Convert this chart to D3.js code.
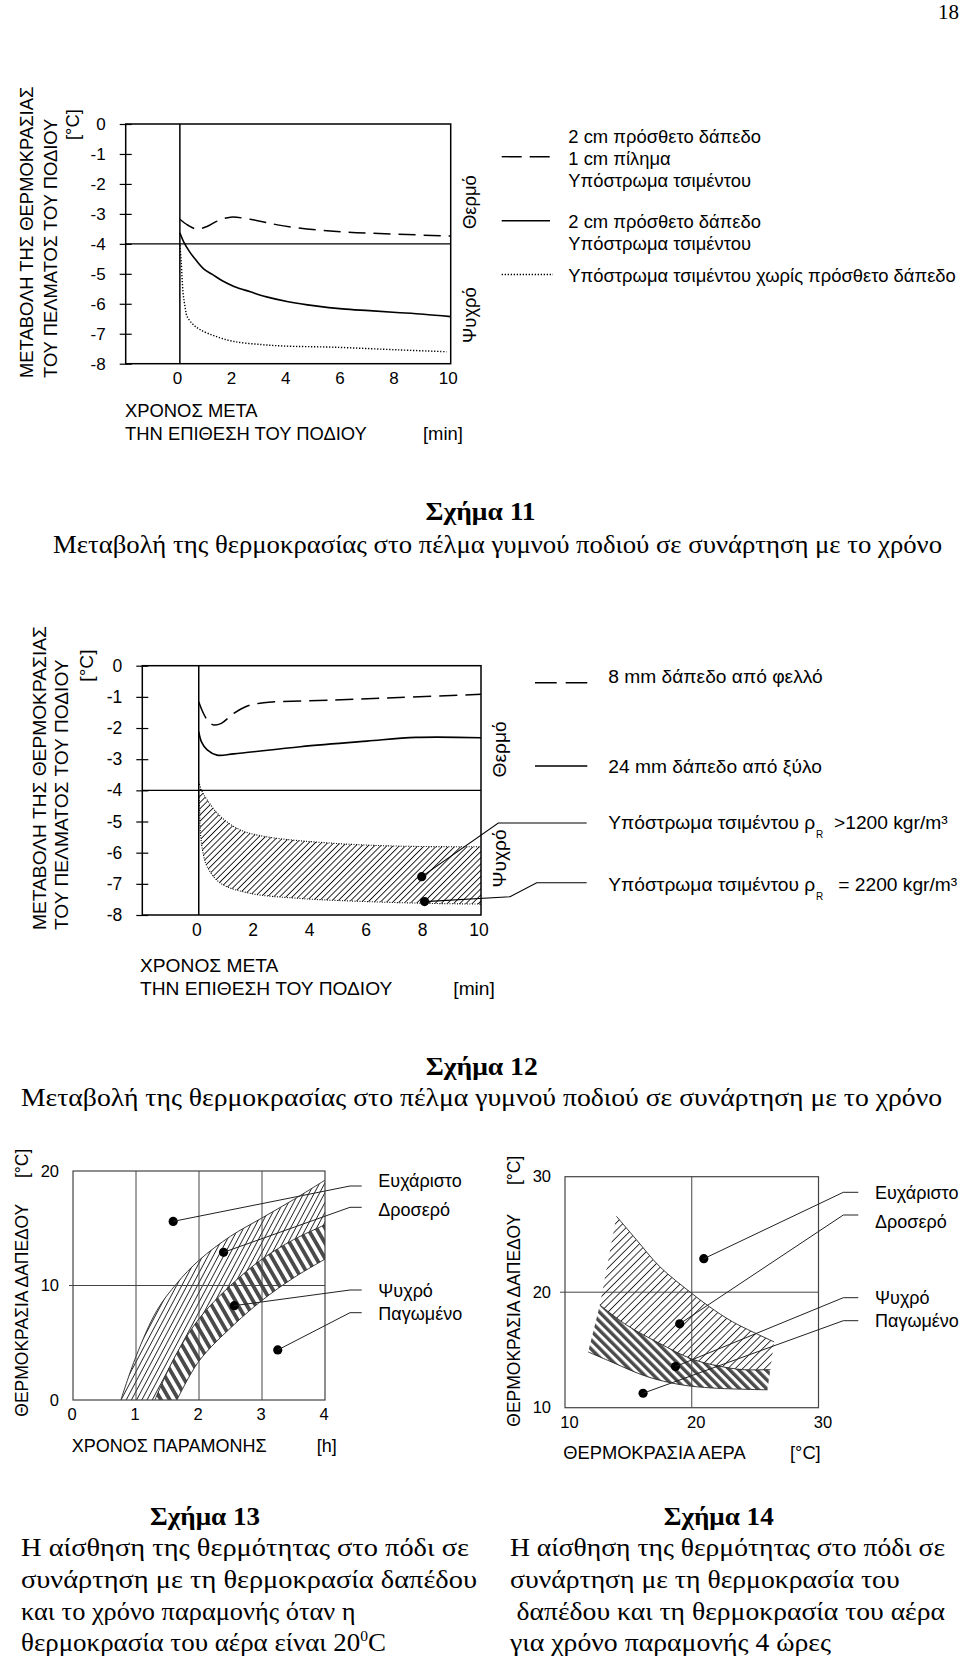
<!DOCTYPE html>
<html>
<head>
<meta charset="utf-8">
<script src="https://cdn.jsdelivr.net/npm/d3@7"></script>
<style>
body { margin: 0; background: #fff; }
svg { display: block; }
text { font-family: "Liberation Sans", Arial, sans-serif; fill: #000; }
.serif { font-family: "Liberation Serif", "Times New Roman", serif; }
</style>
</head>
<body>
<svg id="page" width="960" height="1659"></svg>
<script>
// ---------- data: Σχήμα 11 ----------
const fig11XTicks = [0, 2, 4, 6, 8, 10]
const fig11YTicks = [0, -1, -2, -3, -4, -5, -6, -7, -8]
const fig11Dashed = [[0, -3.18], [0.3, -3.38], [0.64, -3.51], [1.0, -3.42], [1.38, -3.24], [1.87, -3.11], [2.6, -3.18], [3.83, -3.4], [5.8, -3.59], [7.8, -3.67], [10, -3.74]]
const fig11Solid = [[0, -3.63], [0.15, -3.95], [0.35, -4.25], [0.6, -4.55], [0.9, -4.85], [1.2, -5.02], [1.6, -5.25], [2, -5.42], [2.6, -5.6], [3.2, -5.77], [4, -5.93], [5, -6.07], [6, -6.17], [7, -6.23], [8, -6.29], [9, -6.35], [10, -6.43]]
const fig11Dotted = [[0, -4.04], [0.05, -4.6], [0.12, -5.65], [0.2, -6.15], [0.27, -6.43], [0.5, -6.7], [0.76, -6.87], [1.3, -7.08], [2, -7.26], [3, -7.36], [3.83, -7.41], [5.7, -7.45], [8.1, -7.54], [9.85, -7.6]]
const fig11Legend = ["2 cm πρόσθετο δάπεδο", "1 cm πίλημα", "Υπόστρωμα τσιμέντου", "2 cm πρόσθετο δάπεδο", "Υπόστρωμα τσιμέντου", "Υπόστρωμα τσιμέντου  χωρίς πρόσθετο δάπεδο"]

// ---------- data: Σχήμα 12 ----------
const fig12XTicks = [0, 2, 4, 6, 8, 10]
const fig12YTicks = [0, -1, -2, -3, -4, -5, -6, -7, -8]
const fig12Dashed = [[0, -1.16], [0.15, -1.5], [0.35, -1.8], [0.53, -1.9], [0.8, -1.85], [1.24, -1.53], [1.7, -1.3], [2.3, -1.19], [4.8, -1.1], [7.1, -1.02], [10, -0.92]]
const fig12Solid = [[0, -2.12], [0.1, -2.45], [0.3, -2.7], [0.65, -2.87], [1.24, -2.83], [3.6, -2.6], [5.96, -2.42], [7.7, -2.3], [10, -2.31]]
const fig12BandTop = [[0, -3.72], [0.1, -4.0], [0.3, -4.31], [0.77, -4.84], [1.47, -5.27], [2.4, -5.49], [4.8, -5.7], [7.1, -5.79], [10, -5.81]]
const fig12BandBottom = [[0, -3.99], [0.03, -4.6], [0.06, -5.38], [0.15, -6.0], [0.3, -6.45], [0.77, -6.98], [1.8, -7.3], [3.6, -7.47], [5.96, -7.57], [8.3, -7.63], [10, -7.65]]
const fig12Dots = [[7.9, -6.77], [8.0, -7.57]]
const fig12Legend = ["8 mm δάπεδο από φελλό", "24 mm δάπεδο από ξύλο", "Υπόστρωμα τσιμέντου ρ", "Υπόστρωμα τσιμέντου ρ"]
const fig12Density = [">1200 kgr/m³", "= 2200 kgr/m³"]

// ---------- data: Σχήμα 13 ----------
const fig13XTicks = [0, 1, 2, 3, 4]
const fig13YTicks = [0, 10, 20]
const fig13Outer = [[0.76, 0], [1.0, 3.8], [1.33, 7.8], [1.65, 10.2], [2.0, 12.2], [2.5, 14.3], [3.0, 15.9], [3.5, 17.5], [4, 19.2]]
const fig13Mid = [[1.3, 0], [1.6, 3.6], [2.0, 7.1], [2.5, 10.0], [3.0, 12.3], [3.5, 14.0], [4, 15.3]]
const fig13Inner = [[1.65, 0], [2.0, 3.4], [2.56, 6.6], [3.0, 8.7], [3.51, 10.7], [4, 12.3]]
const fig13Dots = [[1.59, 15.6], [2.39, 12.9], [2.56, 8.24], [3.25, 4.37]]
const fig13Labels = ["Ευχάριστο", "Δροσερό", "Ψυχρό", "Παγωμένο"]

// ---------- data: Σχήμα 14 ----------
const fig14XTicks = [10, 20, 30]
const fig14YTicks = [10, 20, 30]
const fig14UpperTop = [[14.06, 26.57], [15.63, 24.55], [17.46, 22.23], [20, 19.9], [21.39, 18.75], [23.22, 17.44], [26.5, 15.7]]
const fig14UpperBottom = [[12.75, 18.9], [14.85, 17.16], [17.46, 15.57], [20, 14.22], [22.17, 13.6], [24.0, 13.3], [26.2, 13.3]]
const fig14LowerBottom = [[11.83, 14.83], [13.8, 13.9], [16.45, 12.7], [19.08, 12.0], [21.7, 11.7], [25.97, 11.55]]
const fig14Dots = [[20.95, 22.9], [19.05, 17.26], [18.72, 13.56], [16.16, 11.25]]
const fig14Labels = ["Ευχάριστο", "Δροσερό", "Ψυχρό", "Παγωμένο"]

// ---------- captions ----------
const cap11 = ["Σχήμα 11", "Μεταβολή της θερμοκρασίας στο πέλμα γυμνού ποδιού σε συνάρτηση με το χρόνο"]
const cap12 = ["Σχήμα 12", "Μεταβολή της θερμοκρασίας στο πέλμα γυμνού ποδιού σε συνάρτηση με το χρόνο"]
const cap13 = ["Σχήμα 13", "Η αίσθηση της θερμότητας στο πόδι σε", "συνάρτηση με τη θερμοκρασία δαπέδου", "και το χρόνο παραμονής όταν η", "θερμοκρασία  του αέρα είναι 20"]
const cap14 = ["Σχήμα 14", "Η αίσθηση της θερμότητας στο πόδι σε", "συνάρτηση με τη θερμοκρασία του", "δαπέδου και τη θερμοκρασία του αέρα", "για χρόνο παραμονής 4 ώρες"]

const svg = d3.select("#page")
svg.append("rect").attr("width", 960).attr("height", 1659).attr("fill", "#fff")
const defs = svg.append("defs")

function hatch(id, spacing, angle, barW, color) {
    const p = defs.append("pattern").attr("id", id)
        .attr("patternUnits", "userSpaceOnUse")
        .attr("width", spacing).attr("height", 20)
        .attr("patternTransform", `rotate(${angle})`)
    p.append("rect").attr("x", 0).attr("y", 0).attr("width", barW).attr("height", 20).attr("fill", color)
}
hatch("h12", 4.4, 45, 0.9, "#111")
hatch("h13a", 4.6, 28, 0.9, "#222")
hatch("h13b", 7.6, -30, 3.8, "#4a4a4a")
hatch("h14a", 5.2, 45, 0.9, "#222")
hatch("h14b", 6.4, -45, 3.4, "#4a4a4a")

const plain = d => String(d)

function curve(x, y) {
    return d3.line().x(d => x(d[0])).y(d => y(d[1])).curve(d3.curveCatmullRom.alpha(0.5))
}
function bandPath(x, y, top, bottom) {
    const l = curve(x, y)
    return l(top) + l(bottom.slice().reverse()).replace(/^M/, "L") + "Z"
}
function txt(g, x, y, s, size, anchor) {
    return g.append("text").attr("x", x).attr("y", y).attr("font-size", size)
        .attr("text-anchor", anchor || "start").text(s)
}
function vtxt(g, x, y, s, size) {
    return g.append("text").attr("transform", `translate(${x},${y}) rotate(-90)`)
        .attr("font-size", size).text(s)
}
function box(g, x, y, color, w) {
    g.append("rect").attr("x", x.range()[0]).attr("y", y.range()[0])
        .attr("width", x.range()[1] - x.range()[0]).attr("height", y.range()[1] - y.range()[0])
        .attr("fill", "none").attr("stroke", color).attr("stroke-width", w)
}
function dots(g, x, y, data) {
    g.selectAll(null).data(data).enter().append("circle")
        .attr("cx", d => x(d[0])).attr("cy", d => y(d[1])).attr("r", 4.6).attr("fill", "#000")
}
function styleAxis(a, size) {
    a.select(".domain").remove()
    a.selectAll("text").attr("font-size", size).attr("font-family", "Liberation Sans, Arial, sans-serif").attr("fill", "#000")
    a.selectAll("line").attr("stroke", "#000").attr("stroke-width", 1.2)
}

svg.append("text").attr("class", "serif").attr("x", 959).attr("y", 19)
    .attr("font-size", 21).attr("text-anchor", "end").text("18")

// ================= Σχήμα 11 =================
{
    const g = svg.append("g")
    const x = d3.scaleLinear().domain([-2, 10]).range([125.7, 450.7])
    const y = d3.scaleLinear().domain([0, -8]).range([124, 363.7])
    box(g, x, y, "#000", 1.5)
    g.append("line").attr("x1", x(0)).attr("x2", x(0)).attr("y1", y(0)).attr("y2", y(-8)).attr("stroke", "#000").attr("stroke-width", 1.5)
    g.append("line").attr("x1", x(-2)).attr("x2", x(10)).attr("y1", y(-4)).attr("y2", y(-4)).attr("stroke", "#000").attr("stroke-width", 1.2)

    const ya = g.append("g").attr("transform", `translate(${x(-2) + 6},0)`)
        .call(d3.axisLeft(y).tickValues(fig11YTicks).tickSize(12).tickPadding(14).tickFormat(plain))
    styleAxis(ya, 17)
    const xa = g.append("g").attr("transform", `translate(0,${y(-8)})`)
        .call(d3.axisBottom(x).tickValues(fig11XTicks).tickSize(0).tickPadding(8).tickFormat(plain))
    styleAxis(xa, 17)
    xa.selectAll("text").attr("dx", -3)

    const l = curve(x, y)
    g.append("path").attr("d", l(fig11Dashed)).attr("fill", "none").attr("stroke", "#000").attr("stroke-width", 1.5).attr("stroke-dasharray", "17,8")
    g.append("path").attr("d", l(fig11Solid)).attr("fill", "none").attr("stroke", "#000").attr("stroke-width", 1.6)
    g.append("path").attr("d", l(fig11Dotted)).attr("fill", "none").attr("stroke", "#000").attr("stroke-width", 1.4).attr("stroke-dasharray", "1.3,1.7")

    vtxt(g, 33, 378, "ΜΕΤΑΒΟΛΗ ΤΗΣ ΘΕΡΜΟΚΡΑΣΙΑΣ", 18.4)
    vtxt(g, 56.5, 378, "ΤΟΥ ΠΕΛΜΑΤΟΣ ΤΟΥ ΠΟΔΙΟΥ", 18.4)
    vtxt(g, 79, 140, "[°C]", 18.4)
    txt(g, 125, 416.7, "ΧΡΟΝΟΣ ΜΕΤΑ", 18.4)
    txt(g, 125, 440, "ΤΗΝ ΕΠΙΘΕΣΗ ΤΟΥ ΠΟΔΙΟΥ", 18.4)
    txt(g, 423, 440, "[min]", 18.4)
    vtxt(g, 476, 229, "Θερμό", 18.4)
    vtxt(g, 476, 343, "Ψυχρό", 18.4)

    const ly = [143, 165, 187, 227.5, 250, 282]
    fig11Legend.forEach((s, i) => txt(g, 568.3, ly[i], s, 18.4))
    g.append("line").attr("x1", 501.7).attr("x2", 550).attr("y1", 156.7).attr("y2", 156.7).attr("stroke", "#000").attr("stroke-width", 1.4).attr("stroke-dasharray", "20,8")
    g.append("line").attr("x1", 501.7).attr("x2", 550).attr("y1", 220.7).attr("y2", 220.7).attr("stroke", "#000").attr("stroke-width", 1.4)
    g.append("line").attr("x1", 501.7).attr("x2", 553).attr("y1", 274.5).attr("y2", 274.5).attr("stroke", "#000").attr("stroke-width", 1.3).attr("stroke-dasharray", "1.3,1.7")
}

// ================= Σχήμα 12 =================
{
    const g = svg.append("g")
    const x = d3.scaleLinear().domain([-2, 10]).range([142.3, 481])
    const y = d3.scaleLinear().domain([0, -8]).range([665.7, 915])

    g.append("path").attr("d", bandPath(x, y, fig12BandTop, fig12BandBottom)).attr("fill", "url(#h12)")
    const l = curve(x, y)
    g.append("path").attr("d", l(fig12BandTop)).attr("fill", "none").attr("stroke", "#000").attr("stroke-width", 1.1).attr("stroke-dasharray", "1,1.5")
    g.append("path").attr("d", l(fig12BandBottom)).attr("fill", "none").attr("stroke", "#000").attr("stroke-width", 1.1).attr("stroke-dasharray", "1,1.5")

    box(g, x, y, "#000", 1.5)
    g.append("line").attr("x1", x(0)).attr("x2", x(0)).attr("y1", y(0)).attr("y2", y(-8)).attr("stroke", "#000").attr("stroke-width", 1.5)
    g.append("line").attr("x1", x(-2)).attr("x2", x(10)).attr("y1", y(-4)).attr("y2", y(-4)).attr("stroke", "#000").attr("stroke-width", 1.2)

    const ya = g.append("g").attr("transform", `translate(${x(-2) + 6},0)`)
        .call(d3.axisLeft(y).tickValues(fig12YTicks).tickSize(12).tickPadding(14).tickFormat(plain))
    styleAxis(ya, 17.5)
    const xa = g.append("g").attr("transform", `translate(0,${y(-8)})`)
        .call(d3.axisBottom(x).tickValues(fig12XTicks).tickSize(0).tickPadding(9).tickFormat(plain))
    styleAxis(xa, 17.5)
    xa.selectAll("text").attr("dx", -2.5)

    g.append("path").attr("d", l(fig12Dashed)).attr("fill", "none").attr("stroke", "#000").attr("stroke-width", 1.5).attr("stroke-dasharray", "18,8")
    g.append("path").attr("d", l(fig12Solid)).attr("fill", "none").attr("stroke", "#000").attr("stroke-width", 1.6)

    dots(g, x, y, fig12Dots)
    const p1 = [x(fig12Dots[0][0]), y(fig12Dots[0][1])]
    const p2 = [x(fig12Dots[1][0]), y(fig12Dots[1][1])]
    g.append("path").attr("d", `M${p1}L498.3,823L586.7,823`).attr("fill", "none").attr("stroke", "#000").attr("stroke-width", 1.1)
    g.append("path").attr("d", `M${p2}L510,896.7L536.7,882.7L586.7,882.7`).attr("fill", "none").attr("stroke", "#000").attr("stroke-width", 1.1)

    vtxt(g, 46, 930, "ΜΕΤΑΒΟΛΗ ΤΗΣ ΘΕΡΜΟΚΡΑΣΙΑΣ", 19.2)
    vtxt(g, 68.3, 930, "ΤΟΥ ΠΕΛΜΑΤΟΣ ΤΟΥ ΠΟΔΙΟΥ", 19.2)
    vtxt(g, 93, 681.7, "[°C]", 19.2)
    txt(g, 140, 971.7, "ΧΡΟΝΟΣ ΜΕΤΑ", 19.2)
    txt(g, 140, 995, "ΤΗΝ ΕΠΙΘΕΣΗ ΤΟΥ ΠΟΔΙΟΥ", 19.2)
    txt(g, 453.3, 995, "[min]", 19.2)
    vtxt(g, 506, 777.5, "Θερμό", 19.2)
    vtxt(g, 506, 887.5, "Ψυχρό", 19.2)

    const ly = [683.3, 773.3, 829, 890.5]
    fig12Legend.forEach((s, i) => txt(g, 608.3, ly[i], s, 19.2))
    txt(g, 816, ly[2] + 9, "R", 10)
    txt(g, 816, ly[3] + 9, "R", 10)
    txt(g, 834, ly[2], fig12Density[0], 19.2)
    txt(g, 838.3, ly[3], fig12Density[1], 19.2)
    g.append("line").attr("x1", 535).attr("x2", 587.3).attr("y1", 682.7).attr("y2", 682.7).attr("stroke", "#000").attr("stroke-width", 1.4).attr("stroke-dasharray", "21.7,9")
    g.append("line").attr("x1", 535).attr("x2", 587.3).attr("y1", 766).attr("y2", 766).attr("stroke", "#000").attr("stroke-width", 1.4)
}

// ================= Σχήμα 13 =================
{
    const g = svg.append("g")
    const x = d3.scaleLinear().domain([0, 4]).range([73, 325])
    const y = d3.scaleLinear().domain([20, 0]).range([1171, 1400])
    const grid = "#444"

    g.append("path").attr("d", bandPath(x, y, fig13Outer, fig13Mid)).attr("fill", "url(#h13a)")
    g.append("path").attr("d", bandPath(x, y, fig13Mid, fig13Inner)).attr("fill", "url(#h13b)")
    const l = curve(x, y)
    ;[fig13Outer, fig13Mid, fig13Inner].forEach(c =>
        g.append("path").attr("d", l(c)).attr("fill", "none").attr("stroke", "#222").attr("stroke-width", 0.9))

    ;[1, 2, 3].forEach(v => g.append("line").attr("x1", x(v)).attr("x2", x(v)).attr("y1", y(20)).attr("y2", y(0)).attr("stroke", grid).attr("stroke-width", 1))
    g.append("line").attr("x1", x(0) - 4).attr("x2", x(4)).attr("y1", y(10)).attr("y2", y(10)).attr("stroke", grid).attr("stroke-width", 1)
    box(g, x, y, grid, 1.2)

    const ya = g.append("g").attr("transform", `translate(${x(0)},0)`)
        .call(d3.axisLeft(y).tickValues(fig13YTicks).tickSize(0).tickPadding(14).tickFormat(plain))
    styleAxis(ya, 16.5)
    const xa = g.append("g").attr("transform", `translate(0,${y(0)})`)
        .call(d3.axisBottom(x).tickValues(fig13XTicks).tickSize(0).tickPadding(8).tickFormat(plain))
    styleAxis(xa, 16.5)
    xa.selectAll("text").attr("dx", -1.5)

    dots(g, x, y, fig13Dots)
    const ly = [1186, 1207.3, 1290, 1312.7]
    fig13Dots.forEach((d, i) => {
        g.append("path").attr("d", `M${x(d[0])},${y(d[1])}L350,${ly[i]}L361.7,${ly[i]}`)
            .attr("fill", "none").attr("stroke", "#222").attr("stroke-width", 1)
    })
    const ty = [1187, 1215.5, 1297.4, 1319.8]
    fig13Labels.forEach((s, i) => txt(g, 378.3, ty[i], s, 18))

    vtxt(g, 28.3, 1416.7, "ΘΕΡΜΟΚΡΑΣΙΑ ΔΑΠΕΔΟΥ", 17.5)
    vtxt(g, 28.3, 1178, "[°C]", 17.5)
    txt(g, 71.7, 1451.7, "ΧΡΟΝΟΣ ΠΑΡΑΜΟΝΗΣ", 18)
    txt(g, 316.7, 1451.7, "[h]", 18)
}

// ================= Σχήμα 14 =================
{
    const g = svg.append("g")
    const x = d3.scaleLinear().domain([10, 30]).range([565, 818.5])
    const y = d3.scaleLinear().domain([30, 10]).range([1176.7, 1407.7])
    const grid = "#444"

    const l = curve(x, y)
    g.append("path").attr("d", bandPath(x, y, fig14UpperTop, fig14UpperBottom)).attr("fill", "url(#h14a)")
    g.append("path").attr("d", bandPath(x, y, fig14UpperBottom, fig14LowerBottom)).attr("fill", "url(#h14b)")
    ;[fig14UpperTop, fig14UpperBottom, fig14LowerBottom].forEach(c =>
        g.append("path").attr("d", l(c)).attr("fill", "none").attr("stroke", "#222").attr("stroke-width", 0.9))

    g.append("line").attr("x1", x(20)).attr("x2", x(20)).attr("y1", y(30)).attr("y2", y(10)).attr("stroke", grid).attr("stroke-width", 1)
    g.append("line").attr("x1", x(10) - 5).attr("x2", x(30)).attr("y1", y(20)).attr("y2", y(20)).attr("stroke", grid).attr("stroke-width", 1)
    box(g, x, y, grid, 1.2)

    const ya = g.append("g").attr("transform", `translate(${x(10)},0)`)
        .call(d3.axisLeft(y).tickValues(fig14YTicks).tickSize(0).tickPadding(14).tickFormat(plain))
    styleAxis(ya, 16.5)
    const xa = g.append("g").attr("transform", `translate(0,${y(10)})`)
        .call(d3.axisBottom(x).tickValues(fig14XTicks).tickSize(0).tickPadding(8.5).tickFormat(plain))
    styleAxis(xa, 16.5)
    xa.selectAll("text").attr("dx", 4)

    dots(g, x, y, fig14Dots)
    const ly = [1192.3, 1215, 1297.7, 1320.7]
    fig14Dots.forEach((d, i) => {
        g.append("path").attr("d", `M${x(d[0])},${y(d[1])}L843.3,${ly[i]}L858.3,${ly[i]}`)
            .attr("fill", "none").attr("stroke", "#222").attr("stroke-width", 1)
    })
    const ty = [1198.7, 1228, 1304, 1327]
    fig14Labels.forEach((s, i) => txt(g, 875, ty[i], s, 18))

    vtxt(g, 520, 1426.7, "ΘΕΡΜΟΚΡΑΣΙΑ ΔΑΠΕΔΟΥ", 17.5)
    vtxt(g, 520, 1185, "[°C]", 17.5)
    txt(g, 563.3, 1459, "ΘΕΡΜΟΚΡΑΣΙΑ ΑΕΡΑ", 18.3)
    txt(g, 790, 1459, "[°C]", 18.3)
}

// ================= captions =================
function capLine(x, y, s, w, bold, anchor) {
    const t = svg.append("text").attr("class", "serif").attr("x", x).attr("y", y)
        .attr("font-size", 26).attr("text-anchor", anchor || "start")
        .attr("font-weight", bold ? "bold" : "normal").text(s)
    if (w) t.attr("textLength", w).attr("lengthAdjust", "spacingAndGlyphs")
    return t
}
capLine(480.6, 520, cap11[0], 110, true, "middle")
capLine(53, 553, cap11[1], 889)
capLine(481.7, 1075, cap12[0], 112, true, "middle")
capLine(21, 1106, cap12[1], 921)

capLine(205, 1525, cap13[0], 110, true, "middle")
capLine(21, 1556, cap13[1], 448)
capLine(21, 1588, cap13[2], 456)
capLine(21, 1620, cap13[3], 334.6)
const last = capLine(21, 1651, cap13[4], 365)
last.append("tspan").attr("dy", -10).attr("font-size", 15).text("0")
last.append("tspan").attr("dy", 10).text("C")

capLine(718.7, 1525, cap14[0], 110, true, "middle")
capLine(510, 1556, cap14[1], 435)
capLine(510, 1588, cap14[2], 389.6)
capLine(516.5, 1620, cap14[3], 428.5)
capLine(510, 1651, cap14[4], 321)
</script>
</body>
</html>
